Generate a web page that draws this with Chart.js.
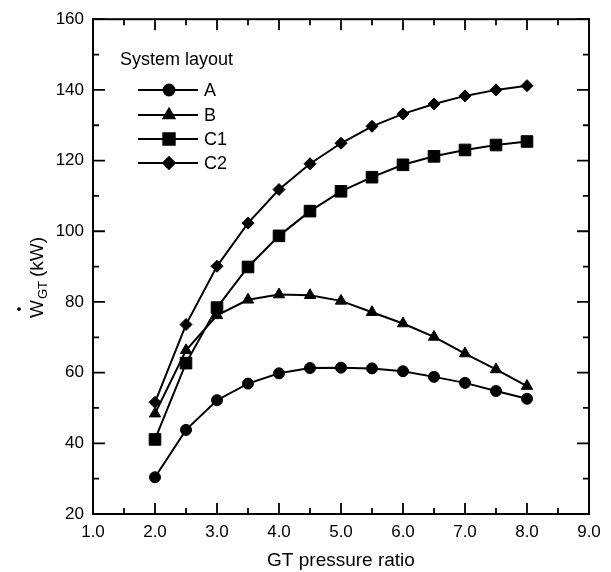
<!DOCTYPE html>
<html>
<head>
<meta charset="utf-8">
<script src="https://cdn.jsdelivr.net/npm/chart.js@4.4.0/dist/chart.umd.min.js"></script>
<style>
  html, body { margin: 0; padding: 0; background: #fff; }
  #wrap { width: 611px; height: 572px; }
</style>
</head>
<body>
<div id="wrap"><canvas id="chart"></canvas></div>
<script>
// GT pressure ratio
const pressureRatio = [2.0, 2.5, 3.0, 3.5, 4.0, 4.5, 5.0, 5.5, 6.0, 6.5, 7.0, 7.5, 8.0];
// GT power output (kW) per system layout
const layoutA  = [30.4, 43.8, 52.2, 56.9, 59.8, 61.3, 61.4, 61.2, 60.4, 58.8, 57.1, 54.8, 52.6];
const layoutB  = [48.4, 66.3, 76.2, 80.6, 82.1, 81.9, 80.3, 77.1, 73.9, 70.1, 65.4, 60.9, 56.2];
const layoutC1 = [41.1, 62.7, 78.4, 89.9, 98.7, 105.7, 111.3, 115.3, 118.8, 121.2, 123.0, 124.4, 125.4];
const layoutC2 = [51.6, 73.6, 90.1, 102.3, 111.8, 119.1, 124.9, 129.7, 133.2, 136.0, 138.3, 140.0, 141.2];

const seriesNames = ['A', 'B', 'C1', 'C2'];
const seriesValues = [layoutA, layoutB, layoutC1, layoutC2];
const markerStyles = ['circle', 'triangle', 'rect', 'rectRot'];
const markerSizes = [5.5, 6.5, 8.2, 6];

// axis ticks
const xMajorTicks = [1, 2, 3, 4, 5, 6, 7, 8, 9];
const xMinorTicks = [1.5, 2.5, 3.5, 4.5, 5.5, 6.5, 7.5, 8.5];
const yMajorTicks = [20, 40, 60, 80, 100, 120, 140, 160];
const yMinorTicks = [30, 50, 70, 90, 110, 130, 150];

const FONT = '"Liberation Sans", Arial, Helvetica, sans-serif';

function toPoints(values) {
  return values.map((v, i) => ({ x: pressureRatio[i], y: v }));
}

const datasets = seriesNames.map((name, i) => ({
  label: name,
  data: toPoints(seriesValues[i]),
  borderColor: '#000',
  backgroundColor: '#000',
  borderWidth: 2,
  pointStyle: markerStyles[i],
  pointRadius: markerSizes[i],
  pointBackgroundColor: '#000',
  pointBorderColor: '#000',
  pointBorderWidth: 1,
  tension: 0,
  fill: false
}));

// Frame, inward ticks, legend and y title
const framePlugin = {
  id: 'frame',
  afterDraw(chart) {
    const ctx = chart.ctx;
    const { left, right, top, bottom } = chart.chartArea;
    const xs = chart.scales.x, ys = chart.scales.y;
    ctx.save();
    ctx.strokeStyle = '#000';
    ctx.lineWidth = 2;
    ctx.strokeRect(left, top, right - left, bottom - top);

    ctx.lineWidth = 1.8;
    ctx.beginPath();
    const tick = (vals, len) => {
      vals.forEach(v => {
        const px = xs.getPixelForValue(v);
        ctx.moveTo(px, bottom); ctx.lineTo(px, bottom - len);
        ctx.moveTo(px, top); ctx.lineTo(px, top + len);
      });
    };
    const ytick = (vals, len) => {
      vals.forEach(v => {
        const py = ys.getPixelForValue(v);
        ctx.moveTo(left, py); ctx.lineTo(left + len, py);
        ctx.moveTo(right, py); ctx.lineTo(right - len, py);
      });
    };
    tick(xMajorTicks, 11);
    tick(xMinorTicks, 6);
    ytick(yMajorTicks, 12);
    ytick(yMinorTicks, 6);
    ctx.stroke();

    // legend
    ctx.fillStyle = '#000';
    ctx.font = '18px ' + FONT;
    ctx.textBaseline = 'alphabetic';
    ctx.textAlign = 'left';
    ctx.fillText('System layout', 120, 65);
    const rows = [90, 115, 139, 163];
    seriesNames.forEach((name, i) => {
      const y = rows[i];
      ctx.lineWidth = 1.8;
      ctx.beginPath();
      ctx.moveTo(138, y); ctx.lineTo(198, y);
      ctx.stroke();
      Chart.helpers.drawPoint(ctx, {
        pointStyle: markerStyles[i],
        radius: markerSizes[i],
        rotation: 0,
        borderWidth: 1
      }, 169, y);
      ctx.fill();
      ctx.textBaseline = 'middle';
      ctx.fillText(name, 204, y + 1);
    });

    // y axis title: W-dot sub GT (kW)
    ctx.save();
    ctx.translate(43, 318);
    ctx.rotate(-Math.PI / 2);
    ctx.textBaseline = 'alphabetic';
    ctx.textAlign = 'left';
    ctx.font = '19px ' + FONT;
    const wW = ctx.measureText('W').width;
    ctx.fillText('W', 0, 0);
    ctx.beginPath();
    ctx.arc(wW / 2, -24, 1.9, 0, Math.PI * 2);
    ctx.fill();
    ctx.font = '13px ' + FONT;
    ctx.fillText('GT', wW + 1, 4);
    const gW = ctx.measureText('GT').width;
    ctx.font = '19px ' + FONT;
    ctx.fillText('(kW)', wW + gW + 5, 0);
    ctx.restore();

    ctx.restore();
  }
};

new Chart(document.getElementById('chart'), {
  type: 'line',
  data: { datasets },
  options: {
    responsive: true,
    maintainAspectRatio: false,
    animation: false,
    layout: { padding: { left: 0, right: 22, top: 19, bottom: 0 } },
    plugins: {
      legend: { display: false },
      tooltip: { enabled: false }
    },
    scales: {
      x: {
        type: 'linear',
        min: 1,
        max: 9,
        afterBuildTicks: scale => { scale.ticks = xMajorTicks.map(v => ({ value: v })); },
        afterFit: scale => { scale.height = 58; },
        grid: { display: false, drawTicks: false },
        border: { display: false },
        ticks: {
          color: '#000',
          padding: 8,
          font: { family: FONT, size: 17 },
          callback: v => v.toFixed(1)
        },
        title: {
          display: true,
          text: 'GT pressure ratio',
          color: '#000',
          font: { family: FONT, size: 19 },
          padding: { top: 0, bottom: 0 }
        }
      },
      y: {
        type: 'linear',
        min: 20,
        max: 160,
        afterBuildTicks: scale => { scale.ticks = yMajorTicks.map(v => ({ value: v })); },
        afterFit: scale => { scale.width = 93; },
        grid: { display: false, drawTicks: false },
        border: { display: false },
        ticks: {
          color: '#000',
          padding: 9,
          font: { family: FONT, size: 17 }
        }
      }
    }
  },
  plugins: [framePlugin]
});
</script>
</body>
</html>
